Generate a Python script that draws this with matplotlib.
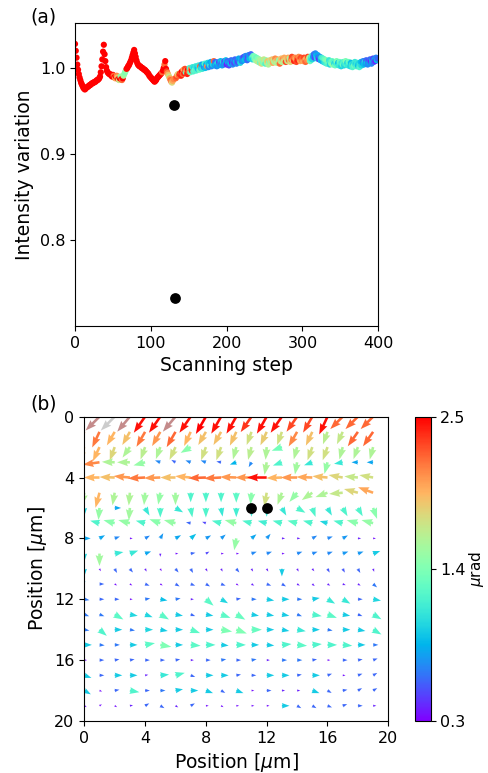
import numpy as np
import matplotlib
matplotlib.use("Agg")
import matplotlib.pyplot as plt
from matplotlib import colors as mcolors

# ---- panel (a): intensity variation along the scan ----
intensity = [
    1.028, 1.020, 1.012, 1.004, 0.998, 0.993, 0.989, 0.986, 0.983, 0.981, 0.979, 0.977, 0.976, 0.975, 0.976, 0.977, 0.978, 0.978, 0.979, 0.980,
    0.980, 0.981, 0.982, 0.982, 0.983, 0.983, 0.984, 0.984, 0.985, 0.986, 0.986, 0.987, 0.988, 0.990, 0.995, 1.002, 1.010, 1.019, 1.027, 1.016,
    1.008, 1.001, 0.997, 0.995, 0.994, 0.993, 0.993, 0.992, 0.991, 0.990, 0.992, 0.991, 0.989, 0.988, 0.990, 0.991, 0.989, 0.987, 0.986, 0.988,
    0.990, 0.987, 0.986, 0.988, 0.991, 0.993, 0.995, 0.997, 0.999, 1.000, 1.002, 1.003, 1.005, 1.007, 1.009, 1.012, 1.015, 1.018, 1.021, 1.017,
    1.013, 1.009, 1.006, 1.004, 1.003, 1.002, 1.002, 1.001, 1.000, 1.000, 0.999, 0.998, 0.998, 0.997, 0.996, 0.995, 0.994, 0.993, 0.991, 0.990,
    0.989, 0.988, 0.987, 0.986, 0.985, 0.984, 0.985, 0.986, 0.988, 0.989, 0.990, 0.991, 0.992, 0.993, 0.994, 0.995, 0.997, 1.000, 1.004, 1.008,
    0.999, 0.996, 0.994, 0.992, 0.990, 0.988, 0.986, 0.984, 0.983, 0.985, 0.987, 0.957, 0.733, 0.988, 0.990, 0.992, 0.993, 0.991, 0.993, 0.994,
    0.991, 0.996, 0.993, 0.998, 0.994, 0.999, 0.995, 0.997, 0.993, 0.998, 0.996, 1.000, 0.995, 0.999, 0.997, 1.001, 0.996, 1.000, 0.998, 1.002,
    0.997, 1.001, 0.999, 1.003, 0.998, 1.002, 1.000, 1.004, 0.999, 1.003, 1.001, 1.005, 1.000, 1.004, 1.002, 1.006, 1.001, 1.005, 1.003, 1.007,
    1.002, 1.006, 1.004, 1.008, 1.003, 1.007, 1.004, 1.002, 1.006, 1.003, 1.007, 1.004, 1.008, 1.005, 1.003, 1.007, 1.004, 1.008, 1.005, 1.009,
    1.004, 1.008, 1.006, 1.003, 1.007, 1.005, 1.009, 1.006, 1.004, 1.008, 1.006, 1.010, 1.007, 1.005, 1.009, 1.007, 1.011, 1.008, 1.006, 1.010,
    1.008, 1.012, 1.009, 1.013, 1.010, 1.014, 1.011, 1.009, 1.013, 1.015, 1.011, 1.014, 1.016, 1.012, 1.010, 1.014, 1.011, 1.013, 1.009, 1.012,
    1.008, 1.011, 1.007, 1.010, 1.006, 1.009, 1.005, 1.008, 1.006, 1.010, 1.007, 1.005, 1.009, 1.006, 1.008, 1.004, 1.007, 1.009, 1.006, 1.008,
    1.010, 1.006, 1.009, 1.007, 1.011, 1.008, 1.006, 1.010, 1.007, 1.009, 1.005, 1.008, 1.011, 1.007, 1.010, 1.008, 1.012, 1.009, 1.007, 1.011,
    1.008, 1.012, 1.009, 1.011, 1.007, 1.010, 1.013, 1.009, 1.011, 1.008, 1.012, 1.010, 1.007, 1.011, 1.009, 1.013, 1.010, 1.008, 1.012, 1.009,
    1.011, 1.008, 1.012, 1.009, 1.007, 1.011, 1.009, 1.013, 1.010, 1.012, 1.008, 1.011, 1.014, 1.010, 1.013, 1.016, 1.012, 1.017, 1.014, 1.011,
    1.015, 1.012, 1.010, 1.013, 1.009, 1.012, 1.008, 1.011, 1.007, 1.010, 1.006, 1.009, 1.005, 1.008, 1.006, 1.009, 1.004, 1.007, 1.005, 1.008,
    1.004, 1.007, 1.005, 1.003, 1.006, 1.008, 1.004, 1.006, 1.003, 1.007, 1.005, 1.002, 1.006, 1.004, 1.007, 1.003, 1.005, 1.008, 1.004, 1.006,
    1.003, 1.007, 1.005, 1.002, 1.006, 1.004, 1.001, 1.005, 1.003, 1.007, 1.004, 1.002, 1.006, 1.003, 1.005, 1.001, 1.004, 1.007, 1.003, 1.006,
    1.008, 1.004, 1.007, 1.005, 1.009, 1.006, 1.004, 1.008, 1.006, 1.010, 1.007, 1.005, 1.009, 1.011, 1.007, 1.010, 1.008, 1.012, 1.009, 1.011,
]

# deflection value (urad) used to colour every scan step
step_colour = [
    2.5, 2.5, 2.5, 2.5, 2.5, 2.5, 2.5, 2.5, 2.5, 2.5, 2.5, 2.5, 2.5, 2.5, 2.5, 2.5, 2.5, 2.5, 2.5, 2.5,
    2.5, 2.5, 2.5, 2.5, 2.5, 2.5, 2.5, 2.5, 2.5, 2.5, 2.5, 2.5, 2.5, 2.5, 2.5, 2.5, 2.5, 2.5, 2.5, 2.5,
    2.5, 2.5, 2.5, 2.5, 2.5, 2.5, 2.5, 2.5, 2.5, 2.5, 2.5, 2.2, 2.5, 2.0, 2.5, 2.1, 1.9, 2.5, 1.7, 2.5,
    1.5, 2.5, 2.2, 2.5, 1.6, 1.5, 1.4, 1.5, 2.5, 2.5, 2.5, 2.5, 2.5, 2.5, 2.5, 2.5, 2.5, 2.5, 2.5, 2.5,
    2.5, 2.5, 2.5, 2.5, 2.5, 2.5, 2.5, 2.5, 2.5, 2.5, 2.5, 2.5, 2.5, 2.5, 2.5, 2.5, 2.5, 2.5, 2.5, 2.5,
    2.5, 2.5, 2.5, 2.5, 2.5, 2.5, 2.5, 2.5, 2.5, 2.5, 2.5, 2.5, 2.5, 2.5, 2.5, 2.2, 2.5, 2.5, 2.2, 2.5,
    2.5, 2.3, 2.1, 1.9, 1.7, 2.0, 2.2, 2.1, 1.8, 2.0, 2.1, 0.3, 0.3, 2.2, 2.3, 2.0, 1.8, 2.2, 2.4, 2.3,
    2.4, 2.5, 2.2, 2.0, 2.4, 2.3, 1.3, 2.1, 2.4, 2.5, 2.2, 1.2, 1.3, 2.1, 2.4, 1.1, 1.2, 1.0, 1.3, 1.1,
    1.2, 1.0, 0.9, 1.1, 1.3, 2.2, 1.0, 0.8, 1.1, 0.9, 0.7, 1.2, 0.9, 0.8, 2.1, 1.0, 0.7, 0.9, 1.1, 0.8,
    0.7, 0.9, 1.0, 2.2, 0.8, 0.6, 0.9, 0.7, 1.0, 0.8, 0.5, 0.7, 0.9, 0.6, 0.8, 1.0, 0.7, 0.5, 0.8, 0.9,
    0.4, 0.6, 0.8, 0.5, 0.7, 0.9, 0.6, 0.4, 0.7, 0.8, 0.5, 0.6, 0.9, 0.7, 0.6, 0.5, 0.8, 0.7, 1.0, 0.9,
    0.7, 0.6, 0.8, 0.5, 0.9, 0.7, 0.8, 0.6, 0.5, 0.7, 0.9, 0.8, 0.6, 1.1, 1.0, 1.3, 1.2, 1.4, 1.5, 1.3,
    1.6, 1.4, 1.7, 1.5, 1.3, 1.6, 1.8, 1.5, 1.4, 1.7, 1.6, 1.2, 1.5, 1.7, 1.9, 1.6, 1.4, 1.8, 1.7, 1.5,
    1.9, 2.0, 1.7, 1.6, 2.1, 1.8, 1.6, 2.0, 1.7, 1.5, 2.2, 1.8, 1.9, 1.6, 2.1, 1.7, 2.0, 1.8, 2.3, 1.9,
    1.7, 2.0, 2.2, 1.6, 1.8, 2.1, 2.3, 1.9, 2.2, 2.4, 2.1, 2.0, 2.3, 2.2, 2.4, 2.1, 2.2, 2.0, 2.3, 2.1,
    2.2, 2.0, 2.3, 2.1, 2.2, 1.9, 2.1, 2.3, 2.0, 1.6, 1.3, 1.1, 1.2, 1.0, 0.8, 0.6, 0.5, 0.7, 0.9, 1.0,
    0.8, 0.6, 0.4, 0.7, 0.9, 1.1, 0.8, 1.2, 1.0, 1.3, 1.1, 1.4, 1.2, 1.5, 1.3, 1.1, 1.0, 1.2, 1.4, 1.3,
    1.5, 1.2, 1.0, 1.3, 1.1, 1.4, 1.2, 0.9, 1.1, 1.3, 1.2, 1.0, 1.1, 1.3, 1.2, 1.0, 1.1, 1.4, 1.2, 1.0,
    1.1, 1.3, 1.2, 1.0, 0.9, 1.1, 1.2, 1.0, 1.3, 1.1, 1.0, 1.2, 1.1, 0.9, 1.0, 1.2, 1.1, 0.9, 1.0, 0.8,
    0.7, 0.9, 1.0, 0.8, 0.6, 0.9, 0.7, 0.5, 0.8, 0.6, 0.4, 0.7, 0.9, 0.5, 0.6, 0.8, 0.4, 0.7, 0.9, 0.6,
]

outlier_steps = [131, 132]

# ---- panel (b): deflection map, 20 x 20 grid (row = y position) ----
# magnitude in urad
defl_mag = [
    [2.45, 2.45, 2.45, 2.45, 2.45, 2.45, 2.45, 2.45, 2.5, 2.45, 2.45, 2.35, 2.45, 2.45, 2.3, 2.3, 2.45, 2.2, 2.2, 2.2],
    [2.1, 2.15, 1.95, 1.9, 2.15, 2.05, 2.2, 1.95, 1.9, 1.9, 1.9, 1.75, 1.85, 1.75, 2.1, 1.9, 1.65, 1.7, 2.2, 2.2],
    [1.9, 1.95, 1.8, 1.6, 1.65, 1.6, 1.75, 1.45, 1.75, 1.75, 1.6, 1.65, 1.6, 1.35, 1.6, 1.75, 1.75, 1.6, 1.6, 1.6],
    [2.1, 2.1, 1.6, 1.6, 1.5, 0.7, 0.6, 0.7, 0.7, 0.6, 0.85, 0.7, 1.6, 1.2, 1.55, 1.1, 1.5, 1.1, 0.8, 0.8],
    [1.95, 1.95, 1.9, 2.05, 2.15, 2.05, 1.9, 1.95, 2.2, 2.15, 2.05, 2.05, 2.45, 1.95, 2.05, 2.0, 1.9, 1.8, 1.7, 1.75],
    [1.6, 1.95, 1.6, 1.6, 1.55, 1.5, 1.55, 1.2, 1.2, 1.2, 1.25, 1.45, 1.75, 1.6, 1.5, 1.6, 1.6, 1.7, 1.8, 2.0],
    [1.0, 1.5, 0.8, 1.55, 1.1, 1.2, 1.1, 1.2, 1.2, 1.1, 1.15, 1.1, 1.1, 1.1, 1.2, 1.2, 1.1, 1.2, 1.2, 1.45],
    [1.1, 1.2, 1.45, 1.5, 1.2, 1.45, 1.5, 0.6, 0.5, 1.2, 1.5, 1.2, 1.15, 1.2, 1.25, 1.2, 1.0, 1.2, 1.45, 1.5],
    [0.8, 0.8, 0.7, 0.35, 0.7, 0.75, 0.8, 0.9, 0.75, 0.75, 1.5, 0.8, 0.75, 0.4, 0.4, 0.7, 0.7, 0.75, 0.4, 0.35],
    [1.0, 1.55, 1.1, 1.1, 0.8, 0.4, 0.35, 0.6, 0.5, 0.35, 0.35, 0.7, 0.7, 0.35, 0.7, 0.7, 0.7, 0.75, 0.75, 0.95],
    [0.95, 0.35, 0.6, 0.6, 0.4, 0.35, 0.6, 0.6, 0.4, 0.4, 0.6, 0.4, 0.4, 0.95, 0.4, 0.4, 0.55, 0.55, 0.6, 0.4],
    [0.95, 0.6, 0.35, 0.35, 0.6, 0.35, 0.6, 0.6, 0.6, 0.6, 0.35, 0.4, 0.6, 0.6, 0.4, 0.4, 0.4, 0.4, 0.4, 0.65],
    [0.65, 0.6, 0.6, 0.35, 0.65, 0.9, 0.65, 0.4, 1.25, 1.0, 0.6, 0.65, 0.95, 0.95, 0.65, 0.95, 1.1, 1.1, 0.6, 1.0],
    [0.65, 0.65, 1.25, 1.0, 1.0, 1.25, 0.95, 0.6, 0.95, 1.25, 1.3, 0.95, 0.95, 0.95, 0.65, 1.2, 1.25, 0.95, 0.6, 1.2],
    [0.65, 1.2, 0.95, 0.65, 1.0, 0.95, 0.95, 1.25, 0.95, 1.4, 1.4, 1.3, 0.95, 0.95, 1.1, 0.95, 0.65, 0.95, 0.95, 1.2],
    [0.95, 0.65, 0.65, 0.95, 1.25, 1.4, 0.95, 1.25, 1.2, 0.95, 1.2, 0.95, 0.95, 1.2, 1.25, 1.2, 1.2, 1.2, 0.95, 0.65],
    [0.35, 0.6, 0.6, 0.6, 0.6, 0.6, 0.6, 0.4, 0.6, 0.65, 0.6, 0.65, 0.4, 0.65, 0.65, 0.6, 0.35, 0.6, 0.6, 0.6],
    [0.95, 0.6, 0.95, 0.95, 0.4, 1.1, 1.2, 0.6, 0.95, 0.95, 0.6, 0.6, 0.95, 0.95, 0.6, 0.95, 0.6, 0.35, 0.6, 0.6],
    [0.95, 0.35, 0.6, 1.2, 0.6, 0.65, 0.95, 0.95, 0.95, 0.6, 0.95, 0.35, 0.6, 0.4, 0.4, 0.95, 0.6, 0.6, 0.6, 0.6],
    [0.35, 0.35, 0.35, 0.4, 0.6, 0.6, 0.4, 0.6, 0.35, 0.35, 0.35, 0.35, 0.35, 0.95, 0.6, 0.6, 0.6, 0.6, 0.6, 0.4],
]

# direction on screen, degrees counter-clockwise from +x
defl_dir = [
    [230, 225, 225, 230, 235, 235, 230, 235, 240, 240, 240, 235, 240, 235, 235, 240, 245, 225, 225, 225],
    [240, 245, 240, 240, 240, 240, 240, 245, 240, 240, 245, 250, 245, 250, 240, 245, 250, 245, 235, 235],
    [245, 245, 250, 235, 250, 250, 245, 210, 250, 250, 255, 255, 265, 200, 255, 250, 250, 255, 250, 255],
    [185, 188, 178, 180, 195, 160, 150, 160, 160, 170, 200, 240, 260, 200, 260, 200, 255, 190, 180, 180],
    [180, 180, 178, 175, 183, 182, 180, 175, 182, 183, 178, 180, 180, 182, 180, 178, 175, 170, 175, 170],
    [260, 255, 260, 265, 265, 260, 270, 270, 270, 270, 270, 265, 260, 250, 230, 215, 200, 185, 165, 160],
    [270, 265, 0, 265, 300, 270, 330, 280, 270, 280, 270, 270, 270, 300, 330, 290, 300, 300, 300, 290],
    [170, 165, 165, 165, 165, 160, 165, 170, 160, 165, 165, 165, 165, 165, 165, 165, 165, 165, 165, 165],
    [0, 30, 20, 0, 30, 60, 30, 40, 30, 40, 260, 40, 50, 0, 0, 30, 20, 30, 0, 0],
    [270, 270, 10, 20, 20, 270, 0, 10, 30, 0, 0, 20, 20, 0, 20, 20, 20, 20, 20, 20],
    [270, 300, 300, 310, 300, 300, 310, 300, 300, 300, 310, 300, 300, 270, 300, 310, 300, 300, 300, 290],
    [150, 0, 330, 330, 340, 330, 330, 340, 330, 340, 330, 330, 340, 330, 330, 320, 330, 340, 330, 320],
    [350, 0, 0, 0, 10, 350, 10, 0, 320, 330, 10, 0, 350, 0, 0, 10, 330, 330, 0, 350],
    [340, 340, 330, 350, 340, 330, 350, 340, 350, 340, 330, 350, 350, 350, 340, 350, 340, 350, 340, 330],
    [350, 320, 0, 350, 0, 350, 0, 340, 0, 350, 340, 0, 0, 350, 350, 0, 350, 0, 350, 330],
    [0, 355, 0, 0, 10, 350, 0, 355, 0, 355, 0, 0, 355, 5, 355, 5, 0, 355, 0, 0],
    [0, 0, 10, 10, 0, 0, 10, 0, 0, 10, 0, 10, 0, 0, 0, 10, 0, 0, 10, 20],
    [340, 0, 0, 0, 10, 5, 15, 340, 0, 0, 10, 0, 0, 0, 10, 0, 20, 0, 20, 30],
    [330, 340, 10, 350, 0, 0, 10, 0, 340, 330, 340, 0, 0, 0, 0, 340, 330, 10, 30, 30],
    [330, 30, 330, 10, 30, 330, 330, 30, 0, 330, 0, 0, 0, 0, 330, 330, 340, 20, 0, 0],
]

# a few saturated arrows in the first row are drawn in off-scale colours
first_row_odd = {1: "#c48b8b", 2: "#cccccc", 3: "#c48b8b", 6: "#c48b8b"}

marked_x = [11, 12]
marked_y = [6, 6]

vmin, vmax = 0.3, 2.5
cmap = plt.get_cmap("rainbow")
norm = mcolors.Normalize(vmin=vmin, vmax=vmax)

fig = plt.figure(figsize=(4.88, 7.73), dpi=100)
ax1 = fig.add_axes([0.1537, 0.5783, 0.6215, 0.3916])
ax2 = fig.add_axes([0.1727, 0.0673, 0.623, 0.3937])
cax = fig.add_axes([0.8504, 0.0673, 0.032, 0.3937])

# (a)
steps = np.arange(len(intensity))
inten = np.array(intensity)
col = np.array(step_colour)
keep = np.ones(len(steps), dtype=bool)
keep[outlier_steps] = False
ax1.scatter(steps[keep], inten[keep], c=col[keep], cmap=cmap, norm=norm,
            s=20, linewidths=0)
ax1.scatter(steps[outlier_steps], inten[outlier_steps], color="black", s=60,
            linewidths=0, zorder=3)
ax1.set_xlim(0, 400)
ax1.set_ylim(0.700, 1.052)
ax1.set_xticks([0, 100, 200, 300, 400])
ax1.set_yticks([0.8, 0.9, 1.0])
ax1.set_xlabel("Scanning step", fontsize=13.5)
ax1.set_ylabel("Intensity variation", fontsize=13.5)
ax1.tick_params(labelsize=11.5)
fig.text(0.062, 0.978, "(a)", fontsize=13.5, va="center")

# (b)
mag = np.array(defl_mag)
ang = np.radians(np.array(defl_dir))
X, Y = np.meshgrid(np.arange(20), np.arange(20))
U = mag * np.cos(ang)
V = mag * np.sin(ang)
rgba = cmap(norm(mag))
for c, hexcol in first_row_odd.items():
    rgba[0, c] = mcolors.to_rgba(hexcol)
ax2.quiver(X.ravel(), Y.ravel(), U.ravel(), V.ravel(),
           color=rgba.reshape(-1, 4), angles="uv", scale_units="xy",
           scale=1.9, width=0.0085, headwidth=3.0, headlength=4.2,
           headaxislength=3.8, pivot="tail")
ax2.scatter(marked_x, marked_y, color="black", s=60, linewidths=0, zorder=3)
ax2.set_xlim(0, 20)
ax2.set_ylim(20, 0)
ax2.set_xticks([0, 4, 8, 12, 16, 20])
ax2.set_yticks([0, 4, 8, 12, 16, 20])
ax2.set_xlabel(r"Position [$\mu$m]", fontsize=13.5)
ax2.set_ylabel(r"Position [$\mu$m]", fontsize=13.5)
ax2.tick_params(labelsize=11.5)
fig.text(0.062, 0.478, "(b)", fontsize=13.5, va="center")

sm = matplotlib.cm.ScalarMappable(norm=norm, cmap=cmap)
cb = fig.colorbar(sm, cax=cax, ticks=[0.3, 1.4, 2.5])
cb.ax.tick_params(labelsize=11.5)
cb.set_label(r"$\mu$rad", fontsize=11, labelpad=1)

fig.savefig("out.png", dpi=100)
